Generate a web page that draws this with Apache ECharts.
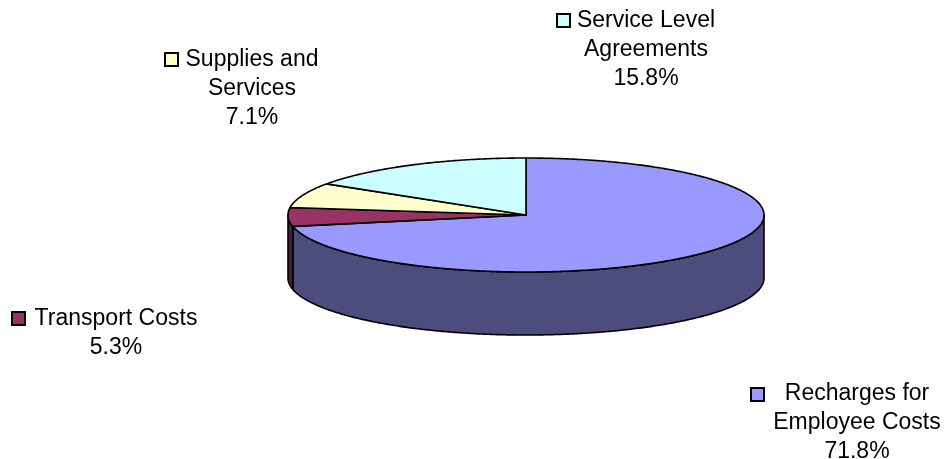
<!DOCTYPE html>
<html><head><meta charset="utf-8">
<script src="https://cdn.jsdelivr.net/npm/echarts@6/dist/echarts.min.js"></script>
<style>html,body{margin:0;padding:0;background:#fff}#c{width:944px;height:459px}</style>
</head><body><div id="c"></div>
<script>
// ---- data ----
const categories = ['Recharges for Employee Costs', 'Transport Costs', 'Supplies and Services', 'Service Level Agreements'];
const labelLines = [['Recharges for', 'Employee Costs'], ['Transport Costs'], ['Supplies and', 'Services'], ['Service Level', 'Agreements']];
const values = [71.8, 5.3, 7.1, 15.8];

// ---- styles / layout ----
const topColors = ['#9999FF', '#993366', '#FFFFCC', '#CCFFFF'];
const sideColors = ['#4D4D7D', '#4D1A33', '#808066', '#668080'];
const pieGeo = { cx: 526, cy: 215, rx: 238, ry: 57, depth: 63 };
const labelLayout = [
  { x: 857, y: 379, bx: 751, by: 388 },
  { x: 116, y: 304, bx: 12, by: 312 },
  { x: 252, y: 45, bx: 165, by: 53 },
  { x: 646, y: 6, bx: 557, by: 14 }
];
const FONT = '23px "Liberation Sans", Arial, sans-serif';

const total = values.reduce((a, b) => a + b, 0);
const starts = [];
values.reduce((acc, v, i) => { starts[i] = acc; return acc + v; }, 0);

function pt(deg, dy) {
  const r = deg * Math.PI / 180;
  return [pieGeo.cx + pieGeo.rx * Math.sin(r), pieGeo.cy - pieGeo.ry * Math.cos(r) + dy];
}
function arc(a0, a1, dy) {
  const pts = [];
  const n = Math.max(2, Math.ceil(Math.abs(a1 - a0) / 0.5));
  for (let k = 0; k <= n; k++) pts.push(pt(a0 + (a1 - a0) * k / n, dy));
  return pts;
}

function renderItem(params, api) {
  const i = params.dataIndex;
  const a0 = starts[i] / total * 360;
  const a1 = a0 + api.value(0) / total * 360;
  const children = [];
  const s0 = Math.max(a0, 90), s1 = Math.min(a1, 270);
  if (s1 > s0) {
    const pts = arc(s0, s1, 0).concat(arc(s1, s0, pieGeo.depth));
    children.push({ type: 'polygon', shape: { points: pts },
      style: { fill: sideColors[i], stroke: '#000', lineWidth: 1.6, lineJoin: 'round' } });
  }
  const topPts = [[pieGeo.cx, pieGeo.cy]].concat(arc(a0, a1, 0));
  children.push({ type: 'polygon', shape: { points: topPts },
    style: { fill: topColors[i], stroke: '#000', lineWidth: 1.6, lineJoin: 'round' } });
  return { type: 'group', children };
}

const graphics = [];
categories.forEach((c, i) => {
  const L = labelLayout[i];
  graphics.push({ type: 'text', x: L.x, y: L.y, silent: true,
    style: { text: labelLines[i].concat([values[i].toFixed(1) + '%']).join('\n'),
      font: FONT, fill: '#000', textAlign: 'center', textVerticalAlign: 'top', lineHeight: 29 } });
  graphics.push({ type: 'rect', shape: { x: L.bx, y: L.by, width: 13, height: 13 }, silent: true,
    style: { fill: topColors[i], stroke: '#000', lineWidth: 2 } });
});

const chart = echarts.init(document.getElementById('c'), null, { renderer: 'canvas' });
chart.setOption({
  animation: false,
  backgroundColor: '#fff',
  series: [{
    type: 'custom', coordinateSystem: 'none', name: 'Costs',
    data: values.map((v, i) => ({ name: categories[i], value: [v] })),
    renderItem
  }],
  graphic: graphics
});
</script></body></html>
